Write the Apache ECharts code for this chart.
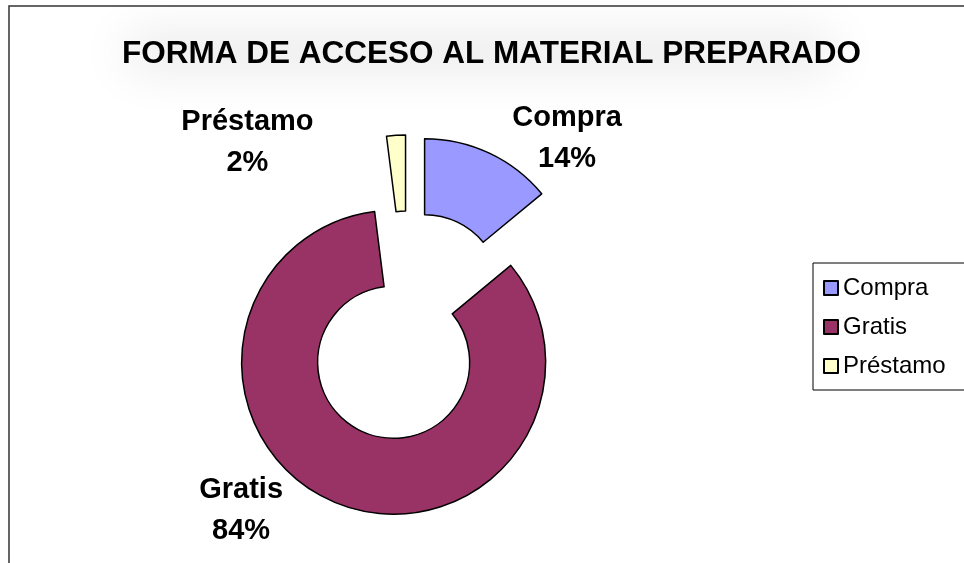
<!DOCTYPE html>
<html>
<head>
<meta charset="utf-8">
<script src="https://cdn.jsdelivr.net/npm/echarts@6/dist/echarts.min.js"></script>
<style>
  html, body { margin: 0; padding: 0; background: #fff; }
  #main { width: 964px; height: 563px; }
</style>
</head>
<body>
<div id="main"></div>
<script>
// datos del gráfico
var categorias = ['Compra', 'Gratis', 'Préstamo'];
var valores = [14, 84, 2];
var colores = ['#9999FF', '#993366', '#FFFFCC'];
var titulo = 'FORMA DE ACCESO AL MATERIAL PREPARADO';

// ajuste de las etiquetas (largo de la guía oculta)
var guias = [
  { length: 16, length2: -9 },
  { length: 7, length2: 14 },
  { length: -7, length2: 69 }
];

var chart = echarts.init(document.getElementById('main'), null, { renderer: 'canvas' });

var datos = categorias.map(function (c, i) {
  return {
    name: c,
    value: valores[i],
    selected: true,
    itemStyle: { color: colores[i] },
    labelLine: { show: false, length: guias[i].length, length2: guias[i].length2 }
  };
});

var option = {
  backgroundColor: '#ffffff',
  animation: false,
  title: {
    text: titulo,
    left: 122,
    top: 38,
    padding: 0,
    textStyle: {
      fontFamily: 'Liberation Sans',
      fontWeight: 'bold',
      fontSize: 31.5,
      color: '#000'
    }
  },
  graphic: [
    {
      // sombra difusa detrás del título
      type: 'rect',
      z: -10,
      shape: { x: 130, y: -300, width: 700, height: 20 },
      style: {
        fill: '#000',
        shadowColor: 'rgba(0,0,0,0.17)',
        shadowBlur: 50,
        shadowOffsetY: 342
      },
      silent: true
    },
    {
      // marco del gráfico
      type: 'rect',
      z: -5,
      shape: { x: 9, y: 6, width: 1000, height: 1000 },
      style: { fill: 'none', stroke: '#333', lineWidth: 1.5 },
      silent: true
    }
  ],
  legend: {
    orient: 'vertical',
    left: 813,
    top: 263,
    padding: [7, 20, 6, 10],
    borderColor: '#000',
    borderWidth: 1,
    itemWidth: 14,
    itemHeight: 14,
    itemGap: 3,
    icon: 'rect',
    selectedMode: false,
    data: categorias,
    textStyle: {
      fontFamily: 'Liberation Sans',
      fontSize: 24,
      color: '#000',
      lineHeight: 20,
      padding: [0, 0, 16, 0]
    }
  },
  series: [{
    type: 'pie',
    center: [408, 326],
    radius: [76, 152],
    startAngle: 90,
    clockwise: true,
    selectedMode: 'multiple',
    selectedOffset: 39,
    avoidLabelOverlap: false,
    emphasis: { disabled: true },
    itemStyle: { borderColor: '#000', borderWidth: 1.5 },
    label: {
      show: true,
      position: 'outside',
      distanceToLabelLine: 5,
      formatter: '{t|{b}}\n{t|{d}%}',
      rich: {
        t: {
          width: 150,
          align: 'center',
          fontFamily: 'Liberation Sans',
          fontWeight: 'bold',
          fontSize: 29,
          lineHeight: 41,
          color: '#000'
        }
      }
    },
    labelLine: { show: false },
    data: datos
  }]
};

chart.setOption(option);
</script>
</body>
</html>
